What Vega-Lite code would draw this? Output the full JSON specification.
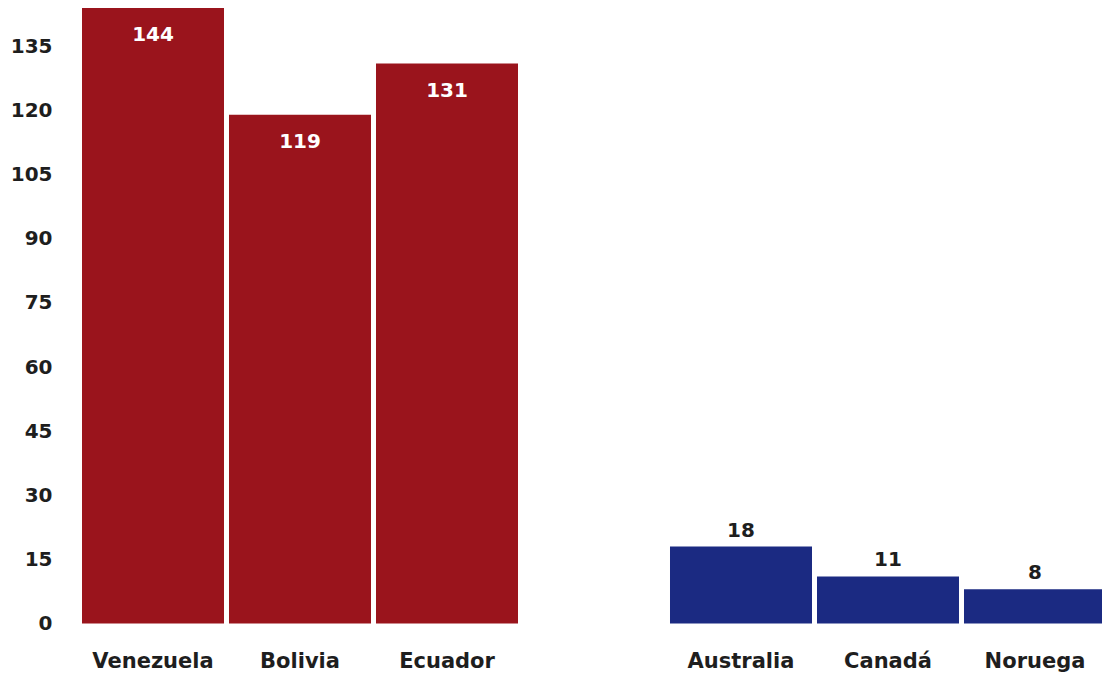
{
  "$schema": "https://vega.github.io/schema/vega-lite/v6.json",
  "autosize": "none",
  "width": 1024,
  "height": 615.5,
  "padding": {"left": 82, "top": 8, "right": 0, "bottom": 56},
  "background": "white",
  "config": {"view": {"stroke": null}},
  "data": {"values": [
    {"pais": "Venezuela", "valor": 144, "grupo": "A"},
    {"pais": "Bolivia", "valor": 119, "grupo": "A"},
    {"pais": "Ecuador", "valor": 131, "grupo": "A"},
    {"pais": "Australia", "valor": 18, "grupo": "B"},
    {"pais": "Canadá", "valor": 11, "grupo": "B"},
    {"pais": "Noruega", "valor": 8, "grupo": "B"}
  ]},
  "encoding": {
    "x": {
      "field": "pais", "type": "nominal",
      "scale": {"domain": ["Venezuela", "Bolivia", "Ecuador", " ", "Australia", "Canadá", "Noruega"], "paddingInner": 0.034, "paddingOuter": 0},
      "axis": {"title": null, "labelAngle": 0, "domain": false, "ticks": false, "labelPadding": 27, "labelFont": "DejaVu Sans", "labelFontWeight": "bold", "labelFontSize": 21, "labelColor": "#1e1e1e"}
    },
    "y": {
      "field": "valor", "type": "quantitative",
      "scale": {"domain": [0, 144], "nice": false},
      "axis": {"title": null, "values": [0, 15, 30, 45, 60, 75, 90, 105, 120, 135], "grid": false, "domain": false, "ticks": false, "labelPadding": 30, "labelFont": "DejaVu Sans", "labelFontWeight": "bold", "labelFontSize": 20, "labelColor": "#1e1e1e"}
    }
  },
  "layer": [
    {
      "mark": {"type": "bar"},
      "encoding": {
        "color": {"field": "grupo", "type": "nominal", "scale": {"domain": ["A", "B"], "range": ["#9a141c", "#1b2a82"]}, "legend": null}
      }
    },
    {
      "transform": [{"filter": "datum.grupo === 'A'"}],
      "mark": {"type": "text", "baseline": "middle", "dy": 27, "font": "DejaVu Sans", "fontWeight": "bold", "fontSize": 20, "color": "white"},
      "encoding": {"text": {"field": "valor", "type": "quantitative"}}
    },
    {
      "transform": [{"filter": "datum.grupo === 'B'"}],
      "mark": {"type": "text", "baseline": "middle", "dy": -16, "font": "DejaVu Sans", "fontWeight": "bold", "fontSize": 20, "color": "#1e1e1e"},
      "encoding": {"text": {"field": "valor", "type": "quantitative"}}
    }
  ]
}
